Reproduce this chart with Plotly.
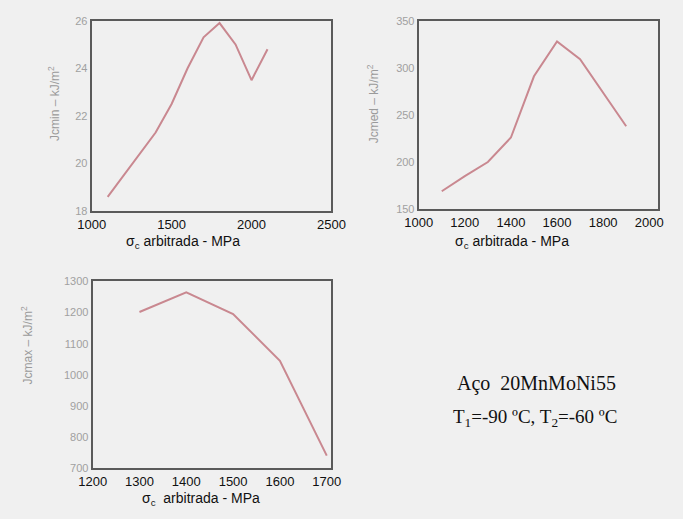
import plotly.graph_objects as go

# Data
x_min = [1100, 1200, 1300, 1400, 1500, 1600, 1700, 1800, 1900, 2000, 2100]
jc_min = [18.6, 19.5, 20.4, 21.3, 22.5, 24.0, 25.3, 25.9, 25.0, 23.5, 24.8]

x_med = [1100, 1200, 1300, 1400, 1500, 1600, 1700, 1800, 1900]
jc_med = [169, 185, 200, 226, 291, 328, 309, 274, 238]

x_max = [1300, 1400, 1500, 1550, 1600, 1700]
jc_max = [1202, 1265, 1195, 1120, 1045, 740]

xt_min = [1000, 1500, 2000, 2500]
yt_min = [18, 20, 22, 24, 26]
xt_med = [1000, 1200, 1400, 1600, 1800, 2000]
yt_med = [150, 200, 250, 300, 350]
xt_max = [1200, 1300, 1400, 1500, 1600, 1700]
yt_max = [700, 800, 900, 1000, 1100, 1200, 1300]

W, H = 683, 519
BG = "#f0f0f0"
LINE = "#c98890"
FRAME = "#5a5a5a"

def px(x):
    return x / W

def py(y):
    return 1 - y / H

fig = go.Figure()
fig.add_trace(go.Scatter(x=x_min, y=jc_min, mode="lines", line=dict(color=LINE, width=2),
                         xaxis="x", yaxis="y", showlegend=False))
fig.add_trace(go.Scatter(x=x_med, y=jc_med, mode="lines", line=dict(color=LINE, width=2),
                         xaxis="x2", yaxis="y2", showlegend=False))
fig.add_trace(go.Scatter(x=x_max, y=jc_max, mode="lines", line=dict(color=LINE, width=2),
                         xaxis="x3", yaxis="y3", showlegend=False))

def xa(dom, rng, tv, anchor):
    return dict(domain=dom, range=rng, tickvals=tv, showgrid=False, zeroline=False,
                showline=True, mirror=True, linecolor=FRAME, linewidth=2, ticks="",
                tickfont=dict(family="Liberation Sans, Arial", size=13, color="#111"),
                anchor=anchor)

def ya(dom, rng, tv, anchor):
    return dict(domain=dom, range=rng, tickvals=tv, showgrid=False, zeroline=False,
                showline=True, mirror=True, linecolor=FRAME, linewidth=2, ticks="",
                tickfont=dict(family="Liberation Sans, Arial", size=11, color="#a0a0a0"),
                anchor=anchor)

fig.update_layout(
    width=W, height=H, margin=dict(l=0, r=0, t=0, b=0),
    paper_bgcolor=BG, plot_bgcolor=BG,
    xaxis=xa([px(81), px(331)], [1000, 2500], xt_min, "y"),
    yaxis=ya([py(210), py(15)], [18, 26], yt_min, "x"),
    xaxis2=xa([px(422), px(672)], [1000, 2040], xt_med, "y2"),
    yaxis2=ya([py(208), py(15)], [150, 350], yt_med, "x2"),
    xaxis3=xa([px(82), px(331)], [1200, 1710], xt_max, "y3"),
    yaxis3=ya([py(473), py(282)], [700, 1300], yt_max, "x3"),
)

ann = []
def xtitle(xc, yc, txt):
    ann.append(dict(x=px(xc), y=py(yc), xref="paper", yref="paper", showarrow=False,
                    xanchor="center", yanchor="middle",
                    text=txt,
                    font=dict(family="Liberation Sans, Arial", size=14, color="#111")))

def ytitle(xc, yc, txt):
    ann.append(dict(x=px(xc), y=py(yc), xref="paper", yref="paper", showarrow=False,
                    xanchor="center", yanchor="middle",
                    text=txt, textangle=-90,
                    font=dict(family="Liberation Sans, Arial", size=12, color="#9a9a9a")))

xtitle(176, 242, "σ<sub>c</sub> arbitrada - MPa")
xtitle(519, 242, "σ<sub>c</sub> arbitrada - MPa")
xtitle(195, 505, "σ<sub>c</sub>  arbitrada - MPa")
ytitle(41, 100, "Jcmin – kJ/m<sup>2</sup>")
ytitle(374, 100, "Jcmed – kJ/m<sup>2</sup>")
ytitle(14, 347, "Jcmax – kJ/m<sup>2</sup>")

ann.append(dict(x=px(545), y=py(386), xref="paper", yref="paper", showarrow=False,
                xanchor="center", yanchor="middle",
                text="Aço  20MnMoNi55",
                font=dict(family="Liberation Serif, Times New Roman", size=20, color="#111")))
ann.append(dict(x=px(543), y=py(422), xref="paper", yref="paper", showarrow=False,
                xanchor="center", yanchor="middle",
                text="T<sub>1</sub>=-90 ºC, T<sub>2</sub>=-60 ºC",
                font=dict(family="Liberation Serif, Times New Roman", size=19, color="#111")))

fig.update_layout(annotations=ann)
fig.write_html("out.html")
